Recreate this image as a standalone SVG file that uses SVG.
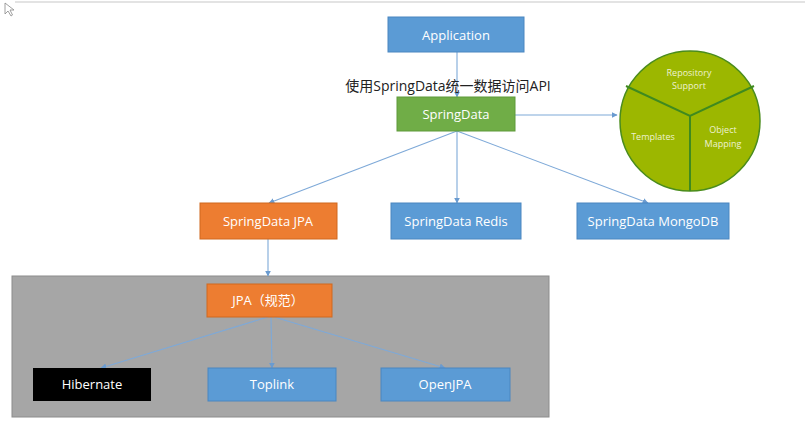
<svg xmlns="http://www.w3.org/2000/svg" width="805" height="421" viewBox="0 0 805 421">
<style>
.t{font-family:"Open Sans","Noto Sans","Noto Sans CJK SC",sans-serif;font-size:13px;fill:#ffffff;text-anchor:middle;dominant-baseline:central}
.ct{font-family:"Open Sans","Noto Sans",sans-serif;font-size:9px;fill:#eef2d0;text-anchor:middle;dominant-baseline:central}
.blue{fill:#5b9bd5;stroke:#4a86c0;stroke-width:1}
.orange{fill:#ed7d31;stroke:#d0691f;stroke-width:1}
.green{fill:#70ad47;stroke:#5f9a3a;stroke-width:1}
.conn{stroke:#7ea9d8;stroke-width:1.1;fill:none;marker-end:url(#ah)}
</style>
<defs>
<marker id="ah" viewBox="0 0 10 10" refX="9" refY="5" markerWidth="6" markerHeight="6" orient="auto" markerUnits="userSpaceOnUse">
<path d="M0,0 L10,5 L0,10 z" fill="#6a9bd0"/>
</marker>
</defs>
<rect width="805" height="421" fill="#ffffff"/>
<line x1="15" y1="2" x2="805" y2="2" stroke="#e3e3e3" stroke-width="2"/>
<path d="M5,3 L5,14 L8,11 L11,16 L12.5,15 L10,10 L14,10 z" fill="#ffffff" stroke="#888" stroke-width="0.8"/>

<g id="jpa-group">
<rect x="12" y="276" width="537" height="141" fill="#a6a6a6" stroke="#8c8c8c" stroke-width="1"/>
</g>

<g id="connectors">
<line class="conn" x1="457" y1="52" x2="457" y2="97"/>
<line class="conn" x1="515" y1="115" x2="617" y2="115"/>
<line class="conn" x1="457" y1="131" x2="269" y2="203"/>
<line class="conn" x1="457" y1="131" x2="457" y2="203"/>
<line class="conn" x1="457" y1="131" x2="648" y2="203"/>
<line class="conn" x1="268" y1="239" x2="268" y2="276"/>
<line class="conn" x1="268" y1="317" x2="101" y2="368"/>
<line class="conn" x1="271" y1="317" x2="272" y2="368"/>
<line class="conn" x1="274" y1="317" x2="445" y2="368"/>
</g>

<g id="application">
<rect class="blue" x="388" y="17" width="136" height="35"/>
<text class="t" x="456" y="35">Application</text>
</g>

<g id="label">
<text x="448" y="85" font-family="'Open Sans','Noto Sans CJK SC',sans-serif" font-size="14" fill="#222" text-anchor="middle" dominant-baseline="central">使用SpringData统一数据访问API</text>
</g>

<g id="springdata">
<rect class="green" x="397" y="97" width="118" height="34"/>
<text class="t" x="456" y="114">SpringData</text>
</g>

<g id="circle">
<circle cx="690" cy="121" r="70" fill="#9cb700" stroke="#4a8c1c" stroke-width="1.5"/>
<path d="M626,86 L690,116 L754,86 M690,116 L690,191" stroke="#3f8a1f" stroke-width="2" fill="none"/>
<text class="ct" x="689" y="72">Repository</text>
<text class="ct" x="689" y="85">Support</text>
<text class="ct" x="653" y="136">Templates</text>
<text class="ct" x="723" y="129">Object</text>
<text class="ct" x="723" y="143">Mapping</text>
</g>

<g id="sd-jpa">
<rect class="orange" x="200" y="203" width="137" height="36"/>
<text class="t" x="268" y="221">SpringData JPA</text>
</g>
<g id="sd-redis">
<rect class="blue" x="391" y="203" width="130" height="36"/>
<text class="t" x="456" y="221">SpringData Redis</text>
</g>
<g id="sd-mongodb">
<rect class="blue" x="577" y="203" width="152" height="36"/>
<text class="t" x="653" y="221">SpringData MongoDB</text>
</g>

<g id="jpa">
<rect class="orange" x="207" y="284" width="125" height="33"/>
<text class="t" x="268" y="300">JPA（规范）</text>
</g>
<g id="hibernate">
<rect x="33" y="368" width="118" height="33" fill="#000000"/>
<text class="t" x="92" y="384">Hibernate</text>
</g>
<g id="toplink">
<rect class="blue" x="208" y="368" width="128" height="33"/>
<text class="t" x="272" y="384">Toplink</text>
</g>
<g id="openjpa">
<rect class="blue" x="381" y="368" width="129" height="33"/>
<text class="t" x="445" y="384">OpenJPA</text>
</g>
</svg>
